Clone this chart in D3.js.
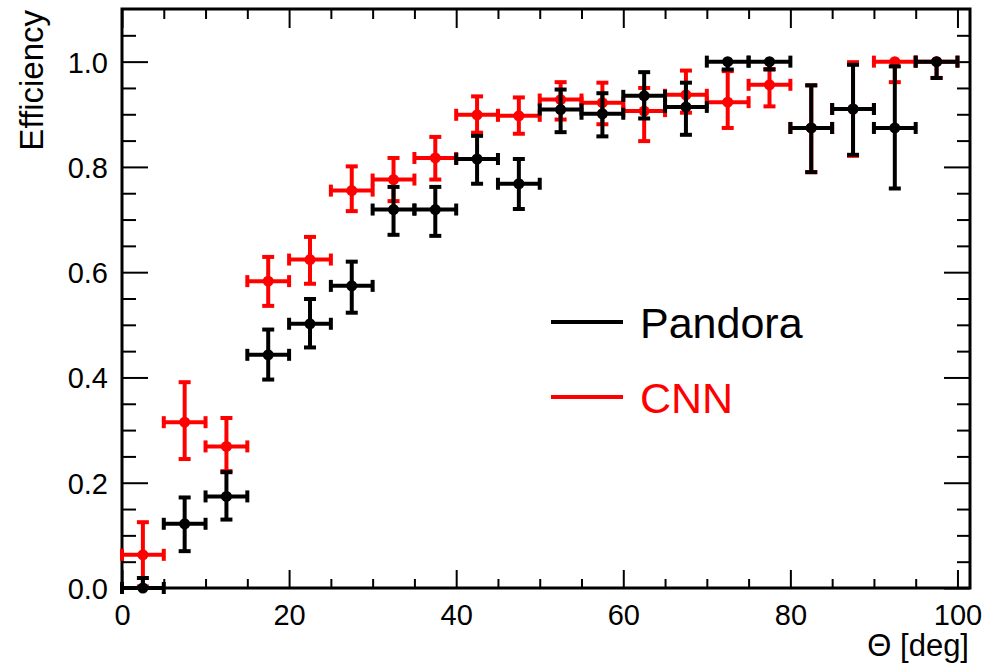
<!DOCTYPE html>
<html>
<head>
<meta charset="utf-8">
<script src="https://cdn.jsdelivr.net/npm/d3@7"></script>
<style>
  html, body { margin: 0; padding: 0; background: #fff; }
  svg { display: block; font-family: "Liberation Sans", Arial, Helvetica, sans-serif; }
</style>
</head>
<body>
<svg id="chart" width="996" height="665"></svg>
<script>
// ---- data ----
const binCenters = [2.5, 7.5, 12.5, 17.5, 22.5, 27.5, 32.5, 37.5, 42.5, 47.5,
                    52.5, 57.5, 62.5, 67.5, 72.5, 77.5, 82.5, 87.5, 92.5, 97.5];
const binHalfWidth = 2.5;

const pandoraEff    = [0.000, 0.122, 0.174, 0.443, 0.502, 0.574, 0.719, 0.719, 0.815, 0.768,
                       0.909, 0.901, 0.935, 0.914, 1.000, 1.000, 0.874, 0.910, 0.874, 1.000];
const pandoraErrUp  = [0.019, 0.050, 0.046, 0.048, 0.047, 0.046, 0.043, 0.043, 0.044, 0.047,
                       0.038, 0.039, 0.045, 0.046, 0.000, 0.000, 0.081, 0.084, 0.117, 0.000];
const pandoraErrLow = [0.000, 0.052, 0.044, 0.047, 0.045, 0.051, 0.048, 0.050, 0.047, 0.048,
                       0.043, 0.043, 0.043, 0.053, 0.015, 0.015, 0.084, 0.087, 0.115, 0.031];

const cnnEff    = [0.063, 0.315, 0.269, 0.583, 0.624, 0.755, 0.776, 0.817, 0.899, 0.897,
                   0.928, 0.922, 0.906, 0.937, 0.923, 0.956, 0.874, 0.910, 1.000, 1.000];
const cnnErrUp  = [0.062, 0.076, 0.054, 0.046, 0.043, 0.046, 0.041, 0.040, 0.035, 0.035,
                   0.033, 0.038, 0.044, 0.046, 0.059, 0.030, 0.081, 0.089, 0.000, 0.000];
const cnnErrLow = [0.060, 0.070, 0.047, 0.047, 0.046, 0.039, 0.041, 0.041, 0.034, 0.034,
                   0.038, 0.041, 0.057, 0.034, 0.049, 0.041, 0.084, 0.089, 0.039, 0.031];

const xMajorTicks = [0, 20, 40, 60, 80, 100];
const yMajorTicks = [0.0, 0.2, 0.4, 0.6, 0.8, 1.0];
const seriesNames = ["Pandora", "CNN"];
const seriesColors = ["#000000", "#ff0000"];
const xTitle = "Θ [deg]";
const yTitle = "Efficiency";

// ---- layout ----
const svg = d3.select("#chart");
const L = 122, R = 970, T = 9, B = 588;
const x = d3.scaleLinear().domain([0, 101.5]).range([L, R]);
const y = d3.scaleLinear().domain([0, 1.1]).range([B, T]);

const xMinor = d3.range(0, 101.5, 5).filter(v => v % 20 !== 0);
const yMinor = d3.range(0, 1.1, 0.05).map(v => +v.toFixed(2)).filter(v => Math.round(v * 100) % 20 !== 0);

function styleAxis(g) {
  g.select(".domain").remove();
  g.selectAll(".tick line").attr("stroke", "#000").attr("stroke-width", 2);
}

// bottom ticks
svg.append("g").attr("transform", `translate(0,${B})`)
  .call(d3.axisBottom(x).tickValues(xMajorTicks).tickSize(-18).tickFormat(d3.format("d")).tickPadding(16))
  .call(styleAxis)
  .call(g => g.selectAll("text").attr("font-size", 29).attr("fill", "#000")
        .attr("font-family", "Liberation Sans, Arial, sans-serif"));
svg.append("g").attr("transform", `translate(0,${B})`)
  .call(d3.axisBottom(x).tickValues(xMinor).tickSize(-9).tickFormat(""))
  .call(styleAxis);
// top ticks
svg.append("g").attr("transform", `translate(0,${T})`)
  .call(d3.axisTop(x).tickValues(xMajorTicks).tickSize(-19).tickFormat(""))
  .call(styleAxis);
svg.append("g").attr("transform", `translate(0,${T})`)
  .call(d3.axisTop(x).tickValues(xMinor).tickSize(-10).tickFormat(""))
  .call(styleAxis);
// left ticks
svg.append("g").attr("transform", `translate(${L},0)`)
  .call(d3.axisLeft(y).tickValues(yMajorTicks).tickSize(-26).tickFormat(d3.format(".1f")).tickPadding(14))
  .call(styleAxis)
  .call(g => g.selectAll("text").attr("font-size", 29).attr("fill", "#000").attr("dy", "0.36em")
        .attr("font-family", "Liberation Sans, Arial, sans-serif"));
svg.append("g").attr("transform", `translate(${L},0)`)
  .call(d3.axisLeft(y).tickValues(yMinor).tickSize(-14).tickFormat(""))
  .call(styleAxis);
// right ticks
svg.append("g").attr("transform", `translate(${R},0)`)
  .call(d3.axisRight(y).tickValues(yMajorTicks).tickSize(-26).tickFormat(""))
  .call(styleAxis);
svg.append("g").attr("transform", `translate(${R},0)`)
  .call(d3.axisRight(y).tickValues(yMinor).tickSize(-13).tickFormat(""))
  .call(styleAxis);

// frame
svg.append("rect").attr("x", L).attr("y", T).attr("width", R - L).attr("height", B - T)
  .attr("fill", "none").attr("stroke", "#000").attr("stroke-width", 3);

// ---- series ----
function drawSeries(vals, up, low, color) {
  const g = svg.append("g").attr("stroke", color).attr("fill", color);
  const capHalf = 6, lw = 4;
  binCenters.forEach((c, i) => {
    const cx = x(c), cy = y(vals[i]);
    const x0 = x(c - binHalfWidth), x1 = x(c + binHalfWidth);
    const yTop = y(vals[i] + up[i]), yBot = y(vals[i] - low[i]);
    g.append("line").attr("x1", x0).attr("x2", x1).attr("y1", cy).attr("y2", cy).attr("stroke-width", lw);
    g.append("line").attr("x1", x0).attr("x2", x0).attr("y1", cy - capHalf).attr("y2", cy + capHalf).attr("stroke-width", lw);
    g.append("line").attr("x1", x1).attr("x2", x1).attr("y1", cy - capHalf).attr("y2", cy + capHalf).attr("stroke-width", lw);
    if (up[i] > 0) {
      g.append("line").attr("x1", cx).attr("x2", cx).attr("y1", cy).attr("y2", yTop).attr("stroke-width", lw);
      g.append("line").attr("x1", cx - capHalf).attr("x2", cx + capHalf).attr("y1", yTop).attr("y2", yTop).attr("stroke-width", lw);
    }
    if (low[i] > 0) {
      g.append("line").attr("x1", cx).attr("x2", cx).attr("y1", cy).attr("y2", yBot).attr("stroke-width", lw);
      g.append("line").attr("x1", cx - capHalf).attr("x2", cx + capHalf).attr("y1", yBot).attr("y2", yBot).attr("stroke-width", lw);
    }
    g.append("circle").attr("cx", cx).attr("cy", cy).attr("r", 5.5).attr("stroke", "none");
  });
}
drawSeries(cnnEff, cnnErrUp, cnnErrLow, seriesColors[1]);
drawSeries(pandoraEff, pandoraErrUp, pandoraErrLow, seriesColors[0]);

// ---- legend ----
const legendY = [322, 397];
seriesNames.forEach((name, i) => {
  svg.append("line").attr("x1", 551).attr("x2", 623).attr("y1", legendY[i]).attr("y2", legendY[i])
    .attr("stroke", seriesColors[i]).attr("stroke-width", 4);
  svg.append("text").attr("x", 640).attr("y", legendY[i] + 16).attr("font-size", 43)
    .attr("fill", seriesColors[i]).text(name);
});

// ---- axis titles ----
svg.append("text").attr("x", 969).attr("y", 656).attr("text-anchor", "end")
  .attr("font-size", 31).attr("fill", "#000").text(xTitle);
svg.append("text").attr("transform", "translate(43,10) rotate(-90)").attr("text-anchor", "end")
  .attr("font-size", 33).attr("fill", "#000").text(yTitle);
</script>
</body>
</html>
